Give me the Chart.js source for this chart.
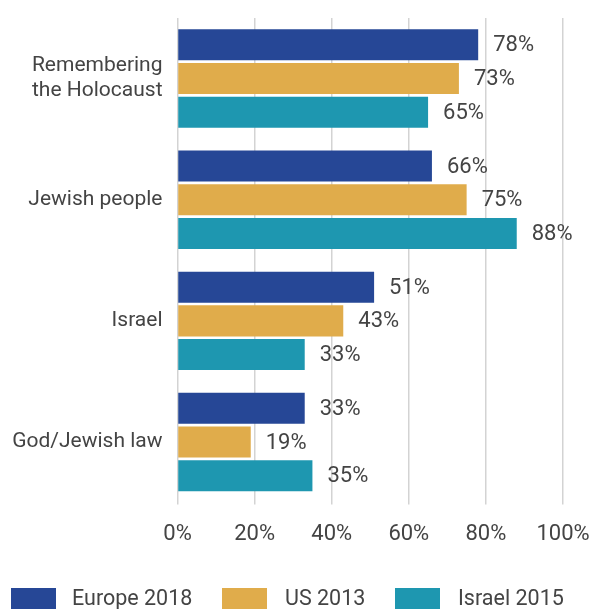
<!DOCTYPE html>
<html>
<head>
<meta charset="utf-8">
<script src="https://cdn.jsdelivr.net/npm/chart.js@4"></script>
<style>
  html, body { margin: 0; padding: 0; background: #fff; }
  #wrap { width: 593px; height: 609px; position: relative; }
</style>
</head>
<body>
<div id="wrap"><canvas id="chart" width="593" height="609"></canvas></div>
<script>
const categories = [["Remembering", "the Holocaust"], "Jewish people", "Israel", "God/Jewish law"];
const europe2018 = [78, 66, 51, 33];
const us2013 = [73, 75, 43, 19];
const israel2015 = [65, 88, 33, 35];
const seriesNames = ["Europe 2018", "US 2013", "Israel 2015"];
const seriesColors = ["#264796", "#e0ac4b", "#1e97b0"];
const xTicks = [0, 20, 40, 60, 80, 100];

const FONT = "Roboto, 'Liberation Sans', sans-serif";
const TEXT = "#444";

// value labels to the right of each bar
const valueLabels = {
  id: "valueLabels",
  afterDatasetsDraw(chart) {
    const ctx = chart.ctx;
    ctx.save();
    ctx.font = "22px " + FONT;
    ctx.fillStyle = TEXT;
    ctx.textBaseline = "middle";
    ctx.textAlign = "left";
    chart.data.datasets.forEach((ds, i) => {
      chart.getDatasetMeta(i).data.forEach((bar, j) => {
        ctx.fillText(ds.data[j] + "%", bar.x + 15, bar.y + 1);
      });
    });
    ctx.restore();
  }
};

// legend at the bottom, partly cut by the canvas edge like the original
const bottomLegend = {
  id: "bottomLegend",
  afterDraw(chart) {
    const ctx = chart.ctx;
    const boxX = [11, 222, 395];
    const textX = [72, 285, 458];
    ctx.save();
    ctx.font = "21.5px " + FONT;
    ctx.textBaseline = "middle";
    seriesNames.forEach((name, i) => {
      ctx.fillStyle = seriesColors[i];
      ctx.fillRect(boxX[i], 588, 45, 24);
      ctx.fillStyle = TEXT;
      ctx.fillText(name, textX[i], 600);
    });
    ctx.restore();
  }
};

new Chart(document.getElementById("chart").getContext("2d"), {
  type: "bar",
  data: {
    labels: categories,
    datasets: [
      { label: seriesNames[0], data: europe2018, backgroundColor: seriesColors[0] },
      { label: seriesNames[1], data: us2013, backgroundColor: seriesColors[1] },
      { label: seriesNames[2], data: israel2015, backgroundColor: seriesColors[2] }
    ]
  },
  options: {
    indexAxis: "y",
    responsive: false,
    animation: false,
    categoryPercentage: 0.835,
    barPercentage: 0.92,
    layout: { padding: { top: 18, right: 30, bottom: 44, left: 0 } },
    plugins: {
      legend: { display: false },
      tooltip: { enabled: false }
    },
    scales: {
      x: {
        min: 0,
        max: 100,
        afterBuildTicks: (axis) => { axis.ticks = xTicks.map(v => ({ value: v })); },
        afterFit: (axis) => { axis.paddingLeft = 0; axis.paddingRight = 0; },
        ticks: {
          callback: (v) => v + "%",
          font: { family: FONT, size: 22 },
          color: TEXT,
          padding: 17
        },
        grid: { color: "#d3d3d3", lineWidth: 1.5, tickLength: 2, drawTicks: true },
        border: { display: false }
      },
      y: {
        afterFit: (axis) => { axis.width = 177.5; axis.paddingTop = 0; axis.paddingBottom = 0; },
        ticks: {
          font: { family: FONT, size: 21, lineHeight: 1.2 },
          color: TEXT,
          padding: 15
        },
        grid: { display: false, drawTicks: false },
        border: { display: false }
      }
    }
  },
  plugins: [valueLabels, bottomLegend]
});
</script>
</body>
</html>
